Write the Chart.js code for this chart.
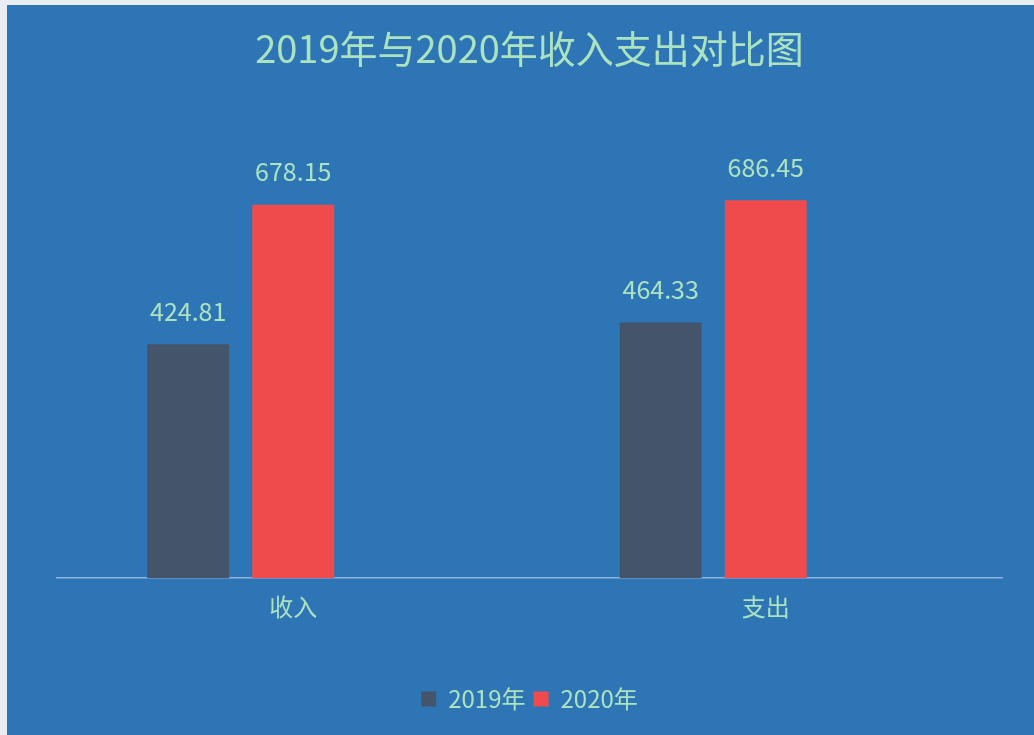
<!DOCTYPE html>
<html>
<head>
<meta charset="utf-8">
<script src="https://cdn.jsdelivr.net/npm/chart.js@4"></script>
<style>
  html, body { margin: 0; padding: 0; background: #e9edf1; }
  #wrap { position: absolute; left: 7px; top: 5px; width: 1027px; height: 730px; background: #2e75b6; }
</style>
</head>
<body>
<div id="wrap"><canvas id="chart" width="1027" height="730"></canvas></div>
<script>
const categories = ['收入', '支出'];
const series2019 = [424.81, 464.33];
const series2020 = [678.15, 686.45];
// Excel keeps an empty third slot in each group, so the bars sit left of the label
const seriesEmpty = [null, null];

const textColor = '#abe3c0';
const fontFamily = '"Microsoft YaHei", "Noto Sans CJK SC", sans-serif';

const valueLabels = {
  id: 'valueLabels',
  afterDatasetsDraw(chart) {
    const ctx = chart.ctx;
    ctx.save();
    ctx.fillStyle = textColor;
    ctx.font = '25px ' + fontFamily;
    ctx.textAlign = 'center';
    ctx.textBaseline = 'middle';
    [0, 1].forEach(i => {
      const meta = chart.getDatasetMeta(i);
      meta.data.forEach((bar, j) => {
        const v = chart.data.datasets[i].data[j];
        ctx.fillText(v.toFixed(2), bar.x, bar.y - 33);
      });
    });
    ctx.restore();
  }
};

new Chart(document.getElementById('chart'), {
  type: 'bar',
  data: {
    labels: categories,
    datasets: [
      { label: '2019年', data: series2019, backgroundColor: '#44546a' },
      { label: '2020年', data: series2020, backgroundColor: '#f04b4c' },
      { label: '', data: seriesEmpty, backgroundColor: 'rgba(0,0,0,0)' }
    ]
  },
  options: {
    responsive: false,
    animation: false,
    layout: { padding: { left: 50, right: 32, bottom: 14 } },
    datasets: { bar: { categoryPercentage: 0.667, barPercentage: 0.78 } },
    plugins: {
      title: {
        display: true,
        text: '2019年与2020年收入支出对比图',
        color: textColor,
        font: { family: fontFamily, size: 38, weight: 'normal' },
        padding: { top: 21, bottom: 66 }
      },
      legend: {
        position: 'bottom',
        labels: {
          color: textColor,
          font: { family: fontFamily, size: 24 },
          boxWidth: 15,
          boxHeight: 15,
          padding: 8,
          filter: item => item.text !== ''
        }
      },
      tooltip: { enabled: false }
    },
    scales: {
      x: {
        grid: { display: false },
        border: { color: '#8db3dc', width: 1.5 },
        ticks: { color: textColor, font: { family: fontFamily, size: 24 }, padding: 6 },
        afterFit: scale => { scale.height += 52; }
      },
      y: {
        display: false,
        min: 0,
        max: 800
      }
    }
  },
  plugins: [valueLabels]
});
</script>
</body>
</html>
